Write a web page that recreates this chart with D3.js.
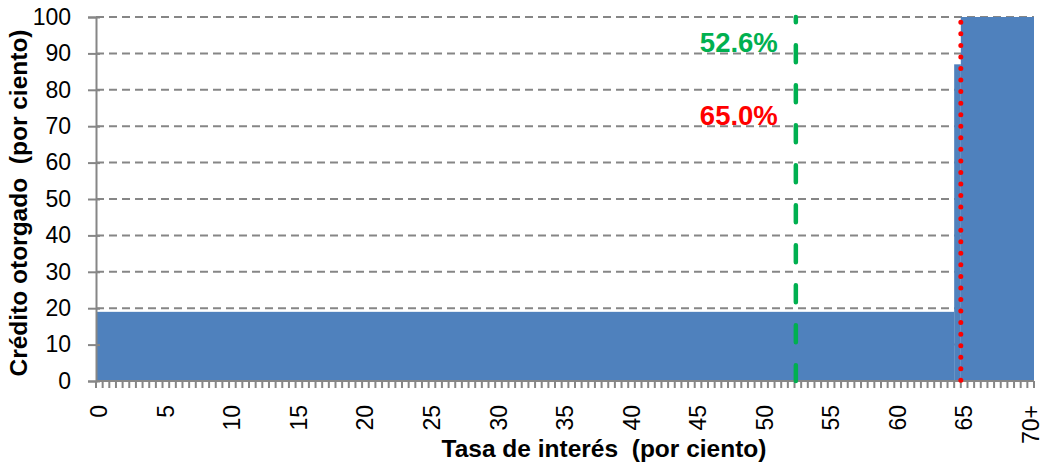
<!DOCTYPE html>
<html>
<head>
<meta charset="utf-8">
<script src="https://cdn.jsdelivr.net/npm/d3@7"></script>
<style>
  body { margin: 0; background: #fff; }
  text { font-family: Arial, "Liberation Sans", sans-serif; }
</style>
</head>
<body>
<svg id="chart" width="1049" height="463"></svg>
<script>
// tramos de la tasa de interés (por ciento) y crédito otorgado
var stepStart = [0, 64.5, 65];
var stepEnd = [64.5, 65, 70.5];
var creditValues = [19, 87, 100];
var xTickValues = [0, 5, 10, 15, 20, 25, 30, 35, 40, 45, 50, 55, 60, 65, 70];
var xTickLabels = ["0", "5", "10", "15", "20", "25", "30", "35", "40", "45", "50", "55", "60", "65", "70+"];
var yTicks = [0, 10, 20, 30, 40, 50, 60, 70, 80, 90, 100];
// líneas de referencia
var markerRates = [52.6, 65.0];
var markerLabels = ["52.6%", "65.0%"];
var markerLabelLevel = [93, 73];

var svg = d3.select('#chart');
var plotLeft = 96, plotRight = 1034, plotTop = 17, plotBottom = 381;
var axisColor = '#868686';

var x = d3.scaleLinear().domain([0, 70.5]).range([plotLeft, plotRight]);
var y = d3.scaleLinear().domain([0, 100]).range([plotBottom, plotTop]);

//网格线
svg.append('g').selectAll('line')
    .data(yTicks.filter(function (d) { return d > 0; }))
    .enter().append('line')
    .attr('x1', plotLeft).attr('x2', plotRight)
    .attr('y1', function (d) { return y(d); })
    .attr('y2', function (d) { return y(d); })
    .attr('stroke', '#868686')
    .attr('stroke-width', 2)
    .attr('stroke-dasharray', '8,5');

//柱
svg.append('g').selectAll('rect')
    .data(creditValues)
    .enter().append('rect')
    .attr('x', function (d, i) { return x(stepStart[i]); })
    .attr('width', function (d, i) { return x(stepEnd[i]) - x(stepStart[i]); })
    .attr('y', function (d) { return y(d); })
    .attr('height', function (d) { return y(0) - y(d); })
    .attr('fill', '#4F81BD');

// eje y
var yAxis = svg.append('g')
    .attr('transform', 'translate(' + plotLeft + ',0)')
    .call(d3.axisLeft(y).tickValues(yTicks).tickSize(8).tickPadding(17));
yAxis.select('.domain').attr('stroke', axisColor).attr('stroke-width', 2);
yAxis.selectAll('.tick line').attr('stroke', axisColor).attr('stroke-width', 2).attr('x2', -8).attr('x1', 4);
yAxis.selectAll('.tick text')
    .attr('font-size', 23)
    .attr('font-family', 'Arial, "Liberation Sans", sans-serif')
    .attr('fill', '#000');

// eje x: marcas cada 0.5
var minorTicks = d3.range(0, 71, 0.5);
svg.append('g').selectAll('line')
    .data(minorTicks)
    .enter().append('line')
    .attr('x1', function (d) { return x(d); })
    .attr('x2', function (d) { return x(d); })
    .attr('y1', plotBottom).attr('y2', plotBottom + 7)
    .attr('stroke', axisColor)
    .attr('stroke-width', 2);
svg.append('line')
    .attr('x1', plotLeft).attr('x2', plotRight)
    .attr('y1', plotBottom).attr('y2', plotBottom)
    .attr('stroke', axisColor)
    .attr('stroke-width', 2);

svg.append('g').selectAll('text')
    .data(xTickValues)
    .enter().append('text')
    .attr('transform', function (d) {
        return 'translate(' + x(d + 0.25) + ',' + (plotBottom + 24) + ') rotate(-90)';
    })
    .attr('text-anchor', 'end')
    .attr('dy', '0.35em')
    .attr('font-size', 23)
    .text(function (d, i) { return xTickLabels[i]; });

// línea verde discontinua y roja punteada
svg.append('line')
    .attr('x1', x(markerRates[0])).attr('x2', x(markerRates[0]))
    .attr('y1', y(100)).attr('y2', y(0))
    .attr('stroke', '#00B050')
    .attr('stroke-width', 4.5)
    .attr('stroke-linecap', 'round')
    .attr('stroke-dasharray', '17,23')
    .attr('stroke-dashoffset', 11.75);
svg.append('line')
    .attr('x1', x(markerRates[1])).attr('x2', x(markerRates[1]))
    .attr('y1', y(100) + 5.3).attr('y2', y(0))
    .attr('stroke', '#FF0000')
    .attr('stroke-width', 5)
    .attr('stroke-linecap', 'round')
    .attr('stroke-dasharray', '0,11.55');

var markerColors = ['#00B050', '#FF0000'];
svg.append('g').selectAll('text')
    .data(markerLabels)
    .enter().append('text')
    .attr('x', x(markerRates[0]) - 18)
    .attr('y', function (d, i) { return y(markerLabelLevel[i]); })
    .attr('dy', '0.35em')
    .attr('text-anchor', 'end')
    .attr('font-size', 27.5)
    .attr('font-weight', 'bold')
    .attr('fill', function (d, i) { return markerColors[i]; })
    .text(function (d) { return d; });

// títulos
svg.append('text')
    .attr('x', 604)
    .attr('y', 457)
    .attr('text-anchor', 'middle')
    .attr('font-size', 24.5)
    .attr('font-weight', 'bold')
    .attr('xml:space', 'preserve')
    .text('Tasa de interés  (por ciento)');
svg.append('text')
    .attr('transform', 'translate(27,203) rotate(-90)')
    .attr('text-anchor', 'middle')
    .attr('font-size', 24.5)
    .attr('font-weight', 'bold')
    .attr('xml:space', 'preserve')
    .text('Crédito otorgado  (por ciento)');
</script>
</body>
</html>
